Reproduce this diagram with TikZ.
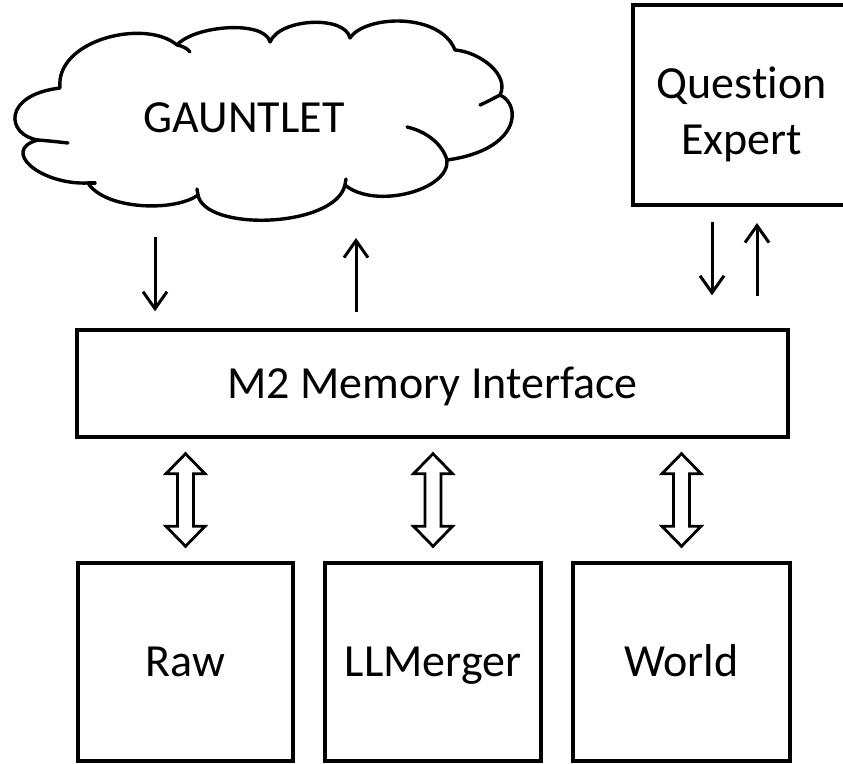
\documentclass[tikz,border=0pt]{standalone}
\usepackage{fontspec}
\setmainfont{Carlito}[Ligatures=NoCommon]
\usetikzlibrary{arrows.meta,calc}

\tikzset{
  labelfont/.style={font=\fontsize{46}{56}\selectfont},
  boxnode/.style={draw, line width=3.4pt, inner sep=0pt, text height=29pt, text depth=0pt, labelfont},
  arr/.style={line width=3pt, -{Straight Barb[length=17pt,width=24pt]}},
  cloudline/.style={line width=3.4pt, line join=round, line cap=round},
  hollow/.style={line width=2.8pt, line join=miter, fill=white},
}

% open double-headed block arrow between the lower edge of #1 and the upper edge of #2
\newcommand\blockarrow[2]{%
  \draw[hollow] let \p1=(#1.south), \p2=(#2.north) in
    (\x2,\y1-15) -- (\x2+19.5,\y1-35) -- (\x2+8,\y1-35) -- (\x2+8,\y2+35) --
    (\x2+19.5,\y2+35) -- (\x2,\y2+15) -- (\x2-19.5,\y2+35) -- (\x2-8,\y2+35) --
    (\x2-8,\y1-35) -- (\x2-19.5,\y1-35) -- cycle;}

\begin{document}
\begin{tikzpicture}[x=1pt,y=-1pt]
\useasboundingbox (0,0) rectangle (843,763);
\clip (0,0) rectangle (843,763);

% GAUNTLET cloud outline
\draw[cloudline]
  (38,140) .. controls (6,135) and (2,95) .. (60,88)
  .. controls (55,40) and (145,18) .. (177,45)
  .. controls (195,25) and (265,20) .. (270,42)
  .. controls (280,18) and (345,15) .. (350,38)
  .. controls (365,15) and (440,12) .. (455,50)
  .. controls (480,52) and (510,75) .. (500,95)
  .. controls (522,105) and (520,150) .. (447,160)
  .. controls (450,190) and (375,210) .. (345,185)
  .. controls (335,228) and (205,232) .. (198,195)
  .. controls (175,212) and (105,210) .. (88,183)
  .. controls (40,185) and (0,150) .. cycle;
% inner lobe strokes of the cloud
\draw[cloudline] (177,45) .. controls (183,46) and (188,49) .. (190,52);
\draw[cloudline] (500,95) .. controls (494,98) and (487,102) .. (480,105);
\draw[cloudline] (407,127) .. controls (425,131) and (442,143) .. (447,160);
\draw[cloudline] (345,185) -- (346,179);
\draw[cloudline] (198,195) -- (197,189);
\draw[cloudline] (88,183) -- (95,183);
\draw[cloudline] (38,140) .. controls (50,141) .. (68,143);
\node[labelfont, inner sep=0pt, text height=29pt, text depth=0pt] (gauntlet) at (244,118) {GAUNTLET};

% boxes
\node[boxnode, minimum width=217, minimum height=200] (qe) at (741.5,105) {};
\node[labelfont, align=center, inner sep=0pt] (qetext) at ($(qe.center)+(0,9)$) {Question\\Expert};
\node[boxnode, minimum width=711, minimum height=107] (m2) at (432.5,383.5) {M2 Memory Interface};
\node[boxnode, minimum width=215, minimum height=198] (raw) at (185.5,662) {Raw};
\node[boxnode, minimum width=216, minimum height=198] (llm) at (433,662) {LLMerger};
\node[boxnode, minimum width=217, minimum height=198] (world) at (681.5,662) {World};

% single arrows between the cloud / expert and the memory interface
\coordinate (gdown) at (155,237);
\coordinate (gup)   at (356,238);
\coordinate (qdown) at (712,222);
\coordinate (qup)   at (757,223);
\draw[arr] (gdown) -- ($(gdown |- m2.north)+(0,-17)$);
\draw[arr] ($(gup |- m2.north)+(0,-16)$) -- (gup);
\draw[arr] (qdown) -- ($(qdown |- m2.north)+(0,-33)$);
\draw[arr] ($(qup |- m2.north)+(0,-32)$) -- (qup);

% block arrows to the three stores
\blockarrow{m2}{raw}
\blockarrow{m2}{llm}
\blockarrow{m2}{world}
\end{tikzpicture}
\end{document}
